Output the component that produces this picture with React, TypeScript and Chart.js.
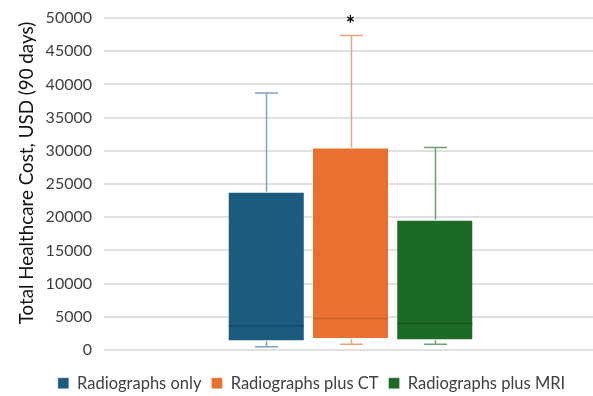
import React, { useEffect, useRef } from "react";
import { Chart, registerables } from "chart.js";

Chart.register(...registerables);

const categories = ["Radiographs only", "Radiographs plus CT", "Radiographs plus MRI"];
const mins = [500, 850, 850];
const q1s = [1300, 1650, 1450];
const medians = [3650, 4750, 4000];
const q3s = [23850, 30500, 19600];
const maxs = [38700, 47350, 30500];
const markers = ["", "*", ""];
const fillColors = ["#1a5b7e", "#e8712f", "#1c6a26"];
const medianColors = ["#154b68", "#c95f27", "#17561f"];
const whiskerColors = ["#7fa5bb", "#eba27d", "#6f9f72"];
const yTicks = [0, 5000, 10000, 15000, 20000, 25000, 30000, 35000, 40000, 45000, 50000];
const yTitle = "Total Healthcare Cost, USD (90 days)";

const FONT = "Lato, 'Open Sans', sans-serif";

const boxPlugin = {
  id: "boxExtras",
  afterLayout(chart: any) {
    const lg = chart.legend;
    if (lg) {
      lg.left += 13;
      lg.right += 13;
      lg.top += 15;
      lg.bottom += 15;
    }
  },
  beforeDatasetsDraw(chart: any) {
    const ctx = chart.ctx;
    const y = chart.scales.y;
    ctx.save();
    // y-axis title
    ctx.fillStyle = "#111";
    ctx.font = "18.8px " + FONT;
    ctx.textAlign = "center";
    ctx.textBaseline = "middle";
    ctx.translate(27, y.getPixelForValue(26650));
    ctx.rotate(-Math.PI / 2);
    ctx.fillText(yTitle, 0, 0);
    ctx.restore();
    ctx.save();
    categories.forEach((_, i) => {
      const bar = chart.getDatasetMeta(i).data[0];
      if (!bar) return;
      const x = Math.round(bar.x) + 0.5;
      const cap = bar.width * 0.3;
      const yMax = y.getPixelForValue(maxs[i]);
      const yMin = y.getPixelForValue(mins[i]);
      const yQ3 = y.getPixelForValue(q3s[i]);
      const yQ1 = y.getPixelForValue(q1s[i]);
      ctx.strokeStyle = whiskerColors[i];
      ctx.lineWidth = 1.5;
      ctx.beginPath();
      ctx.moveTo(x, yQ3);
      ctx.lineTo(x, yMax);
      ctx.moveTo(x - cap / 2, yMax);
      ctx.lineTo(x + cap / 2, yMax);
      ctx.moveTo(x, yQ1);
      ctx.lineTo(x, yMin);
      ctx.moveTo(x - cap / 2, yMin);
      ctx.lineTo(x + cap / 2, yMin);
      ctx.stroke();
    });
    ctx.restore();
  },
  afterDatasetsDraw(chart: any) {
    const ctx = chart.ctx;
    const y = chart.scales.y;
    ctx.save();
    categories.forEach((_, i) => {
      const bar = chart.getDatasetMeta(i).data[0];
      if (!bar) return;
      const yMed = y.getPixelForValue(medians[i]);
      ctx.strokeStyle = medianColors[i];
      ctx.lineWidth = 1.5;
      ctx.beginPath();
      ctx.moveTo(bar.x - bar.width / 2 + 1, yMed);
      ctx.lineTo(bar.x + bar.width / 2 - 1, yMed);
      ctx.stroke();
      if (markers[i]) {
        ctx.fillStyle = "#000";
        ctx.font = "bold 22px " + FONT;
        ctx.textAlign = "center";
        ctx.textBaseline = "middle";
        ctx.fillText(markers[i], bar.x, y.getPixelForValue(yTicks[yTicks.length - 1]) + 7);
      }
    });
    ctx.restore();
  },
};

export default function App() {
  const ref = useRef<HTMLCanvasElement>(null);
  useEffect(() => {
    if (!ref.current) return;
    const chart = new Chart(ref.current, {
      type: "bar",
      data: {
        labels: [""],
        datasets: categories.map((c, i) => ({
          label: c,
          data: [[q1s[i], q3s[i]]] as any,
          backgroundColor: fillColors[i],
          borderColor: "rgba(255,255,255,0.35)",
          borderWidth: 1,
          borderSkipped: false,
          categoryPercentage: 0.5127,
          barPercentage: 0.914,
        })),
      },
      options: {
        responsive: false,
        animation: false,
        layout: { padding: { top: 18, bottom: 9.5, left: 0, right: 0 } },
        plugins: {
          tooltip: { enabled: false },
          legend: {
            position: "bottom",
            labels: {
              boxWidth: 11,
              boxHeight: 11,
              padding: 10,
              color: "#404040",
              font: { family: FONT, size: 16.5 },
            },
          },
        },
        scales: {
          x: { display: false },
          y: {
            min: 0,
            max: 50000,
            afterFit(scale: any) {
              scale.width = 104;
              scale.paddingTop = 0;
              scale.paddingBottom = 0;
            },
            afterBuildTicks(scale: any) {
              scale.ticks = yTicks.map((v) => ({ value: v }));
            },
            ticks: {
              padding: 12,
              color: "#404040",
              font: { family: FONT, size: 16 },
              callback: (v: any) => String(v),
            },
            grid: { color: "#e0e0e0", lineWidth: 2, drawTicks: false },
            border: { display: false },
            title: { display: false },
          },
        },
      },
      plugins: [boxPlugin],
    });
    return () => chart.destroy();
  }, []);
  return (
    <div style={{ position: "fixed", left: 0, top: 0, width: 593, height: 396, overflow: "hidden", background: "#fff" }}>
      <canvas ref={ref} width={597} height={396} style={{ display: "block" }} />
    </div>
  );
}
